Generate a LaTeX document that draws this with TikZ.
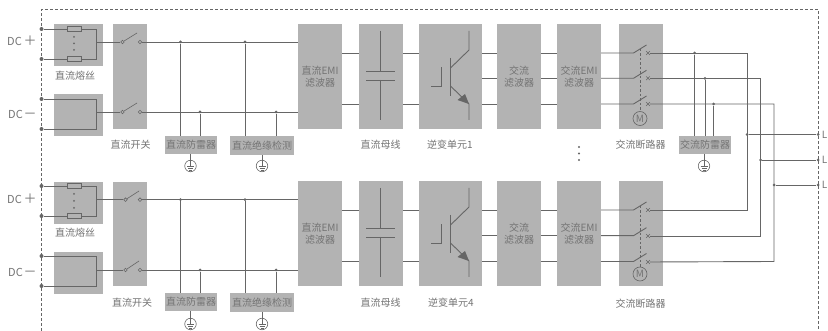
\documentclass[tikz,border=0pt]{standalone}
\usepackage{fontspec}
\setmainfont{Noto Sans CJK SC}
\usetikzlibrary{shapes}
\definecolor{boxgray}{HTML}{B3B3B3}
\definecolor{wiregray}{HTML}{666666}
\definecolor{textgray}{HTML}{737373}
\tikzstyle{wire} = [draw=wiregray,line width=0.9pt]
\tikzstyle{block} = [fill=boxgray,text=textgray,inner sep=0pt,align=center,font=\fontsize{10}{12}\selectfont]
\tikzstyle{lbl} = [text=textgray,inner sep=0pt,font=\fontsize{10}{12}\selectfont]
\tikzstyle{dclbl} = [text=textgray,inner sep=0pt,font=\fontsize{11}{12}\selectfont]
\tikzstyle{sign} = [text=textgray,inner sep=0pt,font=\fontsize{13}{13}\selectfont]
\tikzstyle{jdot} = [circle,fill=wiregray,inner sep=0pt,minimum size=3pt]
\tikzstyle{tdot} = [circle,fill=wiregray,inner sep=0pt,minimum size=4pt]
\tikzstyle{pin} = [circle,draw=wiregray,fill=boxgray,line width=0.6pt,inner sep=0pt,minimum size=3.6pt]
\tikzstyle{fuse} = [rectangle,draw=wiregray,fill=boxgray,line width=0.6pt,inner sep=0pt,minimum width=14pt,minimum height=4.5pt]
\tikzstyle{brk} = [cross out,draw=wiregray,line width=0.6pt,inner sep=0pt,minimum size=3pt]
\tikzstyle{motor} = [circle,draw=wiregray,line width=0.6pt,text=textgray,inner sep=0pt,minimum size=14pt,font=\fontsize{10}{10}\selectfont]
\tikzstyle{earth} = [circle,draw=wiregray,line width=0.6pt,inner sep=0pt,minimum size=11.5pt,path picture={
    \draw[wiregray,line width=0.6pt] ([shift={(-3.5pt,-0.8pt)}]path picture bounding box.center) -- ++(7pt,0pt);
    \draw[wiregray,line width=0.6pt] ([shift={(-2.5pt,-2.6pt)}]path picture bounding box.center) -- ++(5pt,0pt);
    \draw[wiregray,line width=0.6pt] ([shift={(-1.5pt,-4.2pt)}]path picture bounding box.center) -- ++(3pt,0pt);}]
\begin{document}
\begin{tikzpicture}[x=1pt,y=-1pt]
    \useasboundingbox (0,0) rectangle (828,331);
    % enclosure
    \coordinate (frameA) at (41.5,331);
    \coordinate (frameB) at (41.5,9.5);
    \coordinate (frameC) at (818,9.5);
    \coordinate (frameD) at (818,331);
    \draw[wiregray,line width=0.6pt,dash pattern=on 2.5pt off 2.5pt] (frameA) -- (frameB) -- (frameC) -- (frameD);

    % upper row: blocks
    \node[block,minimum width=49pt,minimum height=42pt] (fuseboxA) at (78.5,45) {};
    \node[block,minimum width=49pt,minimum height=42pt] (plainboxA) at (78.5,115) {};
    \node[block,minimum width=34pt,minimum height=105pt] (swboxA) at (130,76.5) {};
    \node[block,minimum width=44pt,minimum height=105pt] (emiA) at (320,76.5) {直流EMI\\滤波器};
    \node[block,minimum width=44pt,minimum height=105pt] (capA) at (381,76.5) {};
    \node[block,minimum width=63pt,minimum height=105pt] (igbtA) at (450.5,76.5) {};
    \node[block,minimum width=44pt,minimum height=105pt] (acfA) at (519,76.5) {交流\\滤波器};
    \node[block,minimum width=44pt,minimum height=105pt] (acemiA) at (579,76.5) {交流EMI\\滤波器};
    \node[block,minimum width=44pt,minimum height=105pt] (acbA) at (641,76.5) {};
    \node[block,minimum width=52pt,minimum height=18pt] (spdA) at (191,145) {直流防雷器};
    \node[block,minimum width=64.5pt,minimum height=19pt] (isoA) at (262,145.5) {直流绝缘检测};
    \node[block,minimum width=52pt,minimum height=18pt] (acspd) at (705,145) {交流防雷器};

    % upper row: labels
    \node[dclbl] (dcpA) at (14.5,41) {DC};
    \node[sign] (sgpA) at (30,41) {＋};
    \node[dclbl] (dcmA) at (15.5,114) {DC};
    \node[sign] (sgmA) at (30,116) {－};
    \node[lbl] (lfuseA) at (75,76) {直流熔丝};
    \node[lbl] (lswA) at (130.5,145) {直流开关};
    \node[lbl] (lcapA) at (380.5,145) {直流母线};
    \node[lbl] (ligbtA) at (450,145) {逆变单元1};
    \node[lbl] (lacbA) at (640.5,145) {交流断路器};

    % upper row: DC inputs
    \node[tdot] (tA) at (41.5,29) {};
    \node[tdot] (tB) at (41.5,59) {};
    \node[tdot] (tC) at (41.5,99) {};
    \node[tdot] (tD) at (41.5,129) {};
    \node[fuse] (fuA) at (74,29) {};
    \node[fuse] (fuB) at (74,59) {};
    \coordinate (cA) at (96,29);
    \coordinate (cB) at (96,59);
    \coordinate (cC) at (96,99);
    \coordinate (cD) at (96,129);
    \coordinate (jA) at (96,42);
    \coordinate (jB) at (96,112);
    \draw[wire] (tA) -- (fuA);
    \draw[wire] (fuA) -- (cA) -- (cB) -- (fuB);
    \draw[wire] (fuB) -- (tB);
    \draw[wire] (tC) -- (cC) -- (cD) -- (tD);
    \node[jdot,minimum size=2pt] (vdA) at (74,37) {};
    \node[jdot,minimum size=2pt] (vdB) at (74,43.5) {};
    \node[jdot,minimum size=2pt] (vdC) at (74,50) {};

    % upper row: switches
    \node[pin] (swlA) at (122.5,42) {};
    \node[pin] (swrA) at (140,42) {};
    \node[pin] (swlB) at (122.5,112) {};
    \node[pin] (swrB) at (140,112) {};
    \coordinate (bladeA) at (137,33);
    \coordinate (bladeB) at (137,103);
    \draw[wire] (jA) -- (swlA);
    \draw[wire] (jB) -- (swlB);
    \draw[wire,line width=0.6pt] (swlA) -- (bladeA);
    \draw[wire,line width=0.6pt] (swlB) -- (bladeB);

    % upper row: DC bus, arresters
    \draw[wire] (swrA) -- (emiA.west |- swrA);
    \draw[wire] (swrB) -- (emiA.west |- swrB);
    \node[jdot] (jspdA) at (180.5,42) {};
    \node[jdot] (jspdB) at (200,112) {};
    \node[jdot] (jisoA) at (245,42) {};
    \node[jdot] (jisoB) at (276,112) {};
    \draw[wire] (jspdA) -- (spdA.north -| jspdA);
    \draw[wire] (jspdB) -- (spdA.north -| jspdB);
    \draw[wire] (jisoA) -- (isoA.north -| jisoA);
    \draw[wire] (jisoB) -- (isoA.north -| jisoB);
    \node[earth] (gndA) at (190.5,166) {};
    \node[earth] (gndB) at (262,166) {};
    \node[earth] (gndC) at (704,166) {};
    \draw[wire,line width=0.6pt] (spdA.south -| gndA) -- (gndA.center);
    \draw[wire,line width=0.6pt] (isoA.south -| gndB) -- (gndB.center);
    \draw[wire,line width=0.6pt] (acspd.south -| gndC) -- (gndC.center);

    % upper row: horizontal links
    \coordinate (railA) at (0,53);
    \coordinate (railM) at (0,78.3);
    \coordinate (railB) at (0,104);
    \draw[wire] (emiA.east |- railA) -- (capA.west |- railA);
    \draw[wire] (emiA.east |- railB) -- (capA.west |- railB);
    \draw[wire] (capA.east |- railA) -- (igbtA.west |- railA);
    \draw[wire] (capA.east |- railB) -- (igbtA.west |- railB);
    \draw[wire] (igbtA.east |- railA) -- (acfA.west |- railA);
    \draw[wire] (igbtA.east |- railM) -- (acfA.west |- railM);
    \draw[wire] (igbtA.east |- railB) -- (acfA.west |- railB);
    \draw[wire] (acfA.east |- railA) -- (acemiA.west |- railA);
    \draw[wire] (acfA.east |- railM) -- (acemiA.west |- railM);
    \draw[wire] (acfA.east |- railB) -- (acemiA.west |- railB);

    % upper row: capacitor and IGBT
    \draw[wire] (380.5,31) -- (380.5,71);
    \draw[wire] (366,71) -- (395,71);
    \draw[wire] (366,80) -- (395,80);
    \draw[wire] (380.5,80) -- (380.5,120);
    \draw[wire] (469,31) -- (469,50) -- (450.5,68);
    \draw[wire] (450.5,58) -- (450.5,96);
    \draw[wire] (431,86) -- (441.5,86) -- (441.5,67);
    \draw[wire] (450.5,86) -- (469,104) -- (469,120);
    \fill[wiregray] (469,104) -- (457.5,100) -- (465,94) -- cycle;

    % upper row: breaker
    \coordinate (bkA) at (633.5,53);
    \coordinate (bkB) at (633.5,78.3);
    \coordinate (bkC) at (633.5,104);
    \coordinate (btA) at (646.5,45);
    \coordinate (btB) at (646.5,70.3);
    \coordinate (btC) at (646.5,96);
    \draw[wire] (acemiA.east |- railA) -- (bkA) -- (btA);
    \draw[wire] (acemiA.east |- railM) -- (bkB) -- (btB);
    \draw[wire] (acemiA.east |- railB) -- (bkC) -- (btC);
    \node[brk] (xA) at (648,53) {};
    \node[brk] (xB) at (648,78.3) {};
    \node[brk] (xC) at (648,104) {};
    \node[motor] (motA) at (640,118.5) {M};
    \coordinate (lnkA) at (640,49);
    \draw[wire,line width=0.6pt,dash pattern=on 2.5pt off 2pt] (lnkA) -- (motA);

    % lower row: blocks
    \node[block,minimum width=49pt,minimum height=42pt] (fuseboxB) at (78.5,203) {};
    \node[block,minimum width=49pt,minimum height=42pt] (plainboxB) at (78.5,273) {};
    \node[block,minimum width=34pt,minimum height=104pt] (swboxB) at (130,234) {};
    \node[block,minimum width=44pt,minimum height=105pt] (emiB) at (320,233.5) {直流EMI\\滤波器};
    \node[block,minimum width=44pt,minimum height=105pt] (capB) at (381,233.5) {};
    \node[block,minimum width=63pt,minimum height=105pt] (igbtB) at (450.5,233.5) {};
    \node[block,minimum width=44pt,minimum height=105pt] (acfB) at (519,233.5) {交流\\滤波器};
    \node[block,minimum width=44pt,minimum height=105pt] (acemiB) at (579,233.5) {交流EMI\\滤波器};
    \node[block,minimum width=44pt,minimum height=105pt] (acbB) at (641,233.5) {};
    \node[block,minimum width=52pt,minimum height=18pt] (spdB) at (191,302) {直流防雷器};
    \node[block,minimum width=64.5pt,minimum height=19pt] (isoB) at (262,302.5) {直流绝缘检测};

    % lower row: labels
    \node[dclbl] (dcpB) at (14.5,199) {DC};
    \node[sign] (sgpB) at (30,199) {＋};
    \node[dclbl] (dcmB) at (15.5,272) {DC};
    \node[sign] (sgmB) at (30,274) {－};
    \node[lbl] (lfuseB) at (75,233) {直流熔丝};
    \node[lbl] (lswB) at (132,303) {直流开关};
    \node[lbl] (lcapB) at (380.5,303) {直流母线};
    \node[lbl] (ligbtB) at (451,303) {逆变单元4};
    \node[lbl] (lacbB) at (640.5,304) {交流断路器};

    % lower row: DC inputs
    \node[tdot] (tE) at (41.5,186) {};
    \node[tdot] (tF) at (41.5,216) {};
    \node[tdot] (tG) at (41.5,256) {};
    \node[tdot] (tH) at (41.5,286) {};
    \node[fuse] (fuC) at (74,186) {};
    \node[fuse] (fuD) at (74,216) {};
    \coordinate (cE) at (96,186);
    \coordinate (cF) at (96,216);
    \coordinate (cG) at (96,256);
    \coordinate (cH) at (96,286);
    \coordinate (jC) at (96,199.7);
    \coordinate (jD) at (96,270);
    \draw[wire] (tE) -- (fuC);
    \draw[wire] (fuC) -- (cE) -- (cF) -- (fuD);
    \draw[wire] (fuD) -- (tF);
    \draw[wire] (tG) -- (cG) -- (cH) -- (tH);
    \node[jdot,minimum size=2pt] (vdD) at (74,194) {};
    \node[jdot,minimum size=2pt] (vdE) at (74,201) {};
    \node[jdot,minimum size=2pt] (vdF) at (74,208) {};

    % lower row: switches
    \node[pin] (swlC) at (125.5,199.7) {};
    \node[pin] (swrC) at (140,199.7) {};
    \node[pin] (swlD) at (125.5,270) {};
    \node[pin] (swrD) at (140,270) {};
    \coordinate (bladeC) at (139,191);
    \coordinate (bladeD) at (139,261);
    \draw[wire] (jC) -- (swlC);
    \draw[wire] (jD) -- (swlD);
    \draw[wire,line width=0.6pt] (swlC) -- (bladeC);
    \draw[wire,line width=0.6pt] (swlD) -- (bladeD);

    % lower row: DC bus, arresters
    \draw[wire] (swrC) -- (emiB.west |- swrC);
    \draw[wire] (swrD) -- (emiB.west |- swrD);
    \node[jdot] (jspdC) at (180.5,199.7) {};
    \node[jdot] (jspdD) at (200,270) {};
    \node[jdot] (jisoC) at (245,199.7) {};
    \node[jdot] (jisoD) at (276,270) {};
    \draw[wire] (jspdC) -- (spdB.north -| jspdC);
    \draw[wire] (jspdD) -- (spdB.north -| jspdD);
    \draw[wire] (jisoC) -- (isoB.north -| jisoC);
    \draw[wire] (jisoD) -- (isoB.north -| jisoD);
    \node[earth] (gndD) at (190.5,324) {};
    \node[earth] (gndE) at (262,324) {};
    \draw[wire,line width=0.6pt] (spdB.south -| gndD) -- (gndD.center);
    \draw[wire,line width=0.6pt] (isoB.south -| gndE) -- (gndE.center);

    % lower row: horizontal links
    \coordinate (railC) at (0,210);
    \coordinate (railN) at (0,235.7);
    \coordinate (railD) at (0,261.5);
    \draw[wire] (emiB.east |- railC) -- (capB.west |- railC);
    \draw[wire] (emiB.east |- railD) -- (capB.west |- railD);
    \draw[wire] (capB.east |- railC) -- (igbtB.west |- railC);
    \draw[wire] (capB.east |- railD) -- (igbtB.west |- railD);
    \draw[wire] (igbtB.east |- railC) -- (acfB.west |- railC);
    \draw[wire] (igbtB.east |- railN) -- (acfB.west |- railN);
    \draw[wire] (igbtB.east |- railD) -- (acfB.west |- railD);
    \draw[wire] (acfB.east |- railC) -- (acemiB.west |- railC);
    \draw[wire] (acfB.east |- railN) -- (acemiB.west |- railN);
    \draw[wire] (acfB.east |- railD) -- (acemiB.west |- railD);

    % lower row: capacitor and IGBT
    \draw[wire] (380.5,188) -- (380.5,228);
    \draw[wire] (366,228) -- (395,228);
    \draw[wire] (366,237) -- (395,237);
    \draw[wire] (380.5,237) -- (380.5,277);
    \draw[wire] (469,188) -- (469,207) -- (450.5,225);
    \draw[wire] (450.5,215) -- (450.5,253);
    \draw[wire] (431,243) -- (441.5,243) -- (441.5,224);
    \draw[wire] (450.5,243) -- (469,261) -- (469,277);
    \fill[wiregray] (469,261) -- (457.5,257) -- (465,251) -- cycle;

    % lower row: breaker
    \coordinate (bkD) at (633.5,210);
    \coordinate (bkE) at (633.5,235.7);
    \coordinate (bkF) at (633.5,261.5);
    \coordinate (btD) at (646.5,202);
    \coordinate (btE) at (646.5,227.7);
    \coordinate (btF) at (646.5,253.5);
    \draw[wire] (acemiB.east |- railC) -- (bkD) -- (btD);
    \draw[wire] (acemiB.east |- railN) -- (bkE) -- (btE);
    \draw[wire] (acemiB.east |- railD) -- (bkF) -- (btF);
    \node[brk] (xD) at (648,210) {};
    \node[brk] (xE) at (648,236) {};
    \node[brk] (xF) at (648,262) {};
    \node[motor] (motB) at (640,274) {M};
    \coordinate (lnkB) at (640,206);
    \draw[wire,line width=0.6pt,dash pattern=on 2.5pt off 2pt] (lnkB) -- (motB);

    % AC outputs
    \node[jdot] (jacA) at (694.5,53) {};
    \node[jdot] (jacB) at (705,78.3) {};
    \node[jdot] (jacC) at (713.5,104) {};
    \draw[wire] (jacA) -- (acspd.north -| jacA);
    \draw[wire] (jacB) -- (acspd.north -| jacB);
    \draw[wire] (jacC) -- (acspd.north -| jacC);
    \coordinate (upA) at (747,53);
    \coordinate (upB) at (760.5,78.3);
    \coordinate (upC) at (774,104);
    \coordinate (dnA) at (747,210);
    \coordinate (dnB) at (760.5,236);
    \coordinate (dnC) at (774,261.5);
    \draw[wire] (xA) -- (upA) -- (dnA) -- (xD);
    \draw[wire] (xB) -- (upB) -- (dnB) -- (xE);
    \draw[wire] (xC) -- (upC) -- (dnC) -- (xF);
    \node[jdot] (jlA) at (747,134.5) {};
    \node[jdot] (jlB) at (760.5,160) {};
    \node[jdot] (jlC) at (774,185) {};
    \node[tdot,minimum size=3pt] (tlA) at (818,134.5) {};
    \node[tdot,minimum size=3pt] (tlB) at (818,160) {};
    \node[tdot,minimum size=3pt] (tlC) at (818,185) {};
    \draw[wire] (jlA) -- (tlA);
    \draw[wire] (jlB) -- (tlB);
    \draw[wire] (jlC) -- (tlC);
    \node[lbl,anchor=east] (lA) at (827.5,134.5) {L};
    \node[lbl,anchor=east] (lB) at (827.5,160) {L};
    \node[lbl,anchor=east] (lC) at (827.5,185) {L};

    % more units
    \node[jdot,minimum size=2.2pt] (mdA) at (579,147) {};
    \node[jdot,minimum size=2.2pt] (mdB) at (579,153.5) {};
    \node[jdot,minimum size=2.2pt] (mdC) at (579,160) {};
\end{tikzpicture}
\end{document}
